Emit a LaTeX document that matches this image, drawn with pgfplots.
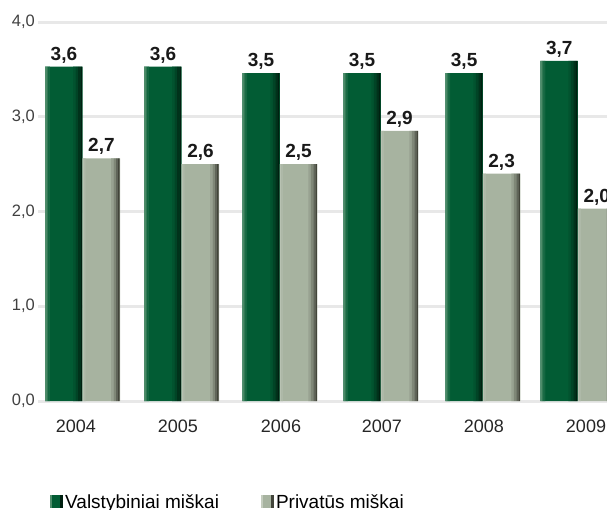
\documentclass[border=0pt]{standalone}
\usepackage{fontspec}
\setmainfont{Liberation Sans}
\usepackage{pgfplots}
\usepackage{pgfplotstable}
\pgfplotsset{compat=1.18}
\definecolor{gL}{RGB}{78,140,106}
\definecolor{gM}{RGB}{2,92,52}
\definecolor{gD}{RGB}{0,32,16}
\definecolor{pL}{RGB}{196,204,190}
\definecolor{pM}{RGB}{167,179,160}
\definecolor{pD}{RGB}{66,68,58}
\pgfplotstableread{
x     dark  dlab  priv  plab
0     3.53  3,6   2.56  2,7
1     3.53  3,6   2.50  2,6
1.99  3.46  3,5   2.50  2,5
3.01  3.46  3,5   2.85  2,9
4.04  3.46  3,5   2.40  2,3
5     3.59  3,7   2.03  2,0
}\data
\newcommand{\strip}[4]{\addplot[forget plot, draw=none, fill=#4, bar width=#2, bar shift=#3] table[x=x, y=#1] {\data};}
\begin{document}
\begin{tikzpicture}
\begin{axis}[
  scale only axis, width=569pt, height=379pt,
  xmin=-0.451, xmax=5.293, ymin=0, ymax=4,
  ybar=0pt,
  axis line style={draw=none}, major tick length=0pt, tick style={draw=none},
  ytick={0,1,2,3,4}, ymajorgrids,
  major grid style={line width=3pt, black!9},
  yticklabel style={font=\fontsize{16.5}{19}\selectfont, text=black!75, inner sep=0pt, xshift=-3pt,
    /pgf/number format/fixed, /pgf/number format/fixed zerofill,
    /pgf/number format/precision=1, /pgf/number format/use comma,
    /pgf/number format/assume math mode=true},
  xtick={-0.068,0.962,2.002,3.021,4.051,5.081},
  xticklabels={2004,2005,2006,2007,2008,2009},
  xticklabel style={font=\fontsize{18}{20}\selectfont, text=black!85, inner sep=0pt, anchor=north, yshift=-19pt},
  legend style={at={(rel axis cs:0,0)}, anchor=north west, xshift=12pt, yshift=-91pt,
    draw=none, fill=none, inner sep=0pt, legend columns=2,
    font=\fontsize{19}{22}\selectfont,
    /tikz/every even column/.append style={column sep=40pt}},
  legend cell align=left,
  lab/.style={nodes near coords, point meta=explicit symbolic,
    every node near coord/.append style={font=\bfseries\fontsize{19}{22}\selectfont, text=black!90, anchor=base, inner sep=0pt, yshift=6.5pt}},
]
% main bars
\addplot[draw=none, fill=gM, bar width=37.5pt, bar shift=-18.75pt, lab,
  legend image code/.code={\fill[gM] (0pt,-6.5pt) rectangle (13pt,6.5pt);
    \fill[gL] (0pt,-6.5pt) rectangle (2pt,6.5pt); \fill[gD] (10pt,-6.5pt) rectangle (13pt,6.5pt);}]
  table[x=x, y=dark, meta=dlab] {\data};
\addplot[draw=none, fill=pM, bar width=37.5pt, bar shift=18.75pt, lab,
  legend image code/.code={\fill[pM] (0pt,-6.5pt) rectangle (13pt,6.5pt);
    \fill[pL] (0pt,-6.5pt) rectangle (2pt,6.5pt); \fill[pD] (10pt,-6.5pt) rectangle (13pt,6.5pt);}]
  table[x=x, y=priv, meta=plab] {\data};
\legend{Valstybiniai miškai, Privatūs miškai}
% bevel strips, dark bars
\strip{dark}{1.6pt}{-36.7pt}{gL}
\strip{dark}{1.6pt}{-35.1pt}{gL!60!gM}
\strip{dark}{1.6pt}{-33.5pt}{gL!25!gM}
\strip{dark}{2.5pt}{-8.25pt}{gD!15!gM}
\strip{dark}{2.5pt}{-5.75pt}{gD!40!gM}
\strip{dark}{2.5pt}{-3.25pt}{gD!70!gM}
\strip{dark}{1.5pt}{-1.25pt}{gD}
% bevel strips, light bars
\strip{priv}{1.5pt}{0.75pt}{pL!60!pM}
\strip{priv}{1.5pt}{2.25pt}{pL!25!pM}
\strip{priv}{2.5pt}{29.75pt}{pD!15!pM}
\strip{priv}{2.5pt}{32.25pt}{pD!40!pM}
\strip{priv}{2pt}{34.5pt}{pD!70!pM}
\strip{priv}{1.5pt}{36.25pt}{pD}
\end{axis}
\pgfresetboundingbox
\useasboundingbox (-38pt,-108pt) rectangle (569pt,401pt);
\end{tikzpicture}
\end{document}
